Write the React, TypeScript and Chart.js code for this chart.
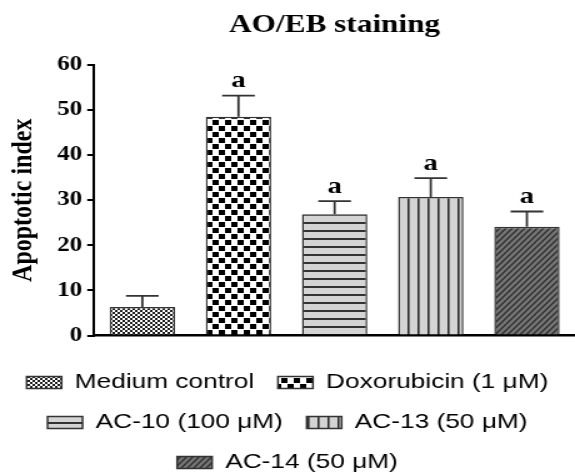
import React, { useEffect, useRef } from 'react';
import { Chart, registerables } from 'chart.js';

Chart.register(...registerables);

// ---- data ----
const categories = ['Medium control', 'Doxorubicin (1 μM)', 'AC-10 (100 μM)', 'AC-13 (50 μM)', 'AC-14 (50 μM)'];
const meanValues = [6.3, 48.5, 26.9, 30.7, 24.1];
const errorValues = [2.5, 4.7, 2.9, 4.2, 3.4];
const significance = ['', 'a', 'a', 'a', 'a'];
const yMin = 0;
const yMax = 60;
const yStep = 10;

const SERIF = '"Liberation Serif", "Times New Roman", Times, serif';
const SANS = '"Liberation Sans", Arial, Helvetica, sans-serif';

function makePattern(w: number, h: number, draw: (c: CanvasRenderingContext2D) => void): CanvasPattern {
  const cv = document.createElement('canvas');
  cv.width = w;
  cv.height = h;
  const c = cv.getContext('2d') as CanvasRenderingContext2D;
  draw(c);
  return c.createPattern(cv, 'repeat') as CanvasPattern;
}

function buildPatterns(): CanvasPattern[] {
  const fine = makePattern(4, 4, (c) => {
    c.fillStyle = '#1e1e1e';
    c.fillRect(0, 0, 4, 4);
    c.fillStyle = '#ffffff';
    c.fillRect(0, 0, 2, 2);
    c.fillRect(2, 2, 2, 2);
  });
  const checker = makePattern(10, 12, (c) => {
    c.fillStyle = '#ffffff';
    c.fillRect(0, 0, 10, 12);
    c.fillStyle = '#000000';
    c.fillRect(0, 0, 5, 5);
    c.fillRect(5, 6, 5, 5);
  });
  const horiz = makePattern(4, 8, (c) => {
    c.fillStyle = '#d4d4d4';
    c.fillRect(0, 0, 4, 8);
    c.fillStyle = '#333333';
    c.fillRect(0, 6, 4, 2);
  });
  const vert = makePattern(8, 4, (c) => {
    c.fillStyle = '#d4d4d4';
    c.fillRect(0, 0, 8, 4);
    c.fillStyle = '#2e2e2e';
    c.fillRect(6, 0, 1.6, 4);
  });
  const diag = makePattern(5, 6, (c) => {
    c.fillStyle = '#757575';
    c.fillRect(0, 0, 5, 6);
    c.strokeStyle = '#2e2e2e';
    c.lineWidth = 1.4;
    c.beginPath();
    c.moveTo(-1, 6 + 1.2);
    c.lineTo(5 + 1, -1.2);
    c.moveTo(-1 - 5, 6 + 1.2);
    c.lineTo(0 + 1, -1.2);
    c.moveTo(-1 + 5, 6 + 1.2);
    c.lineTo(10 + 1, -1.2);
    c.stroke();
  });
  return [fine, checker, horiz, vert, diag];
}

const errorBarPlugin = {
  id: 'errorBars',
  afterDatasetsDraw(chart: any) {
    const meta = chart.getDatasetMeta(0);
    const yScale = chart.scales.y;
    const ctx = chart.ctx as CanvasRenderingContext2D;
    ctx.save();
    ctx.strokeStyle = '#333333';
    ctx.lineWidth = 1.8;
    meta.data.forEach((bar: any, i: number) => {
      const { x, width } = bar.getProps(['x', 'width'], true);
      const top = yScale.getPixelForValue(meanValues[i]);
      const end = yScale.getPixelForValue(meanValues[i] + errorValues[i]);
      const half = width / 4;
      ctx.beginPath();
      ctx.moveTo(x, top);
      ctx.lineTo(x, end);
      ctx.moveTo(x - half, end);
      ctx.lineTo(x + half, end);
      ctx.stroke();
      if (significance[i]) {
        ctx.fillStyle = '#000000';
        ctx.font = `bold 23px ${SERIF}`;
        ctx.textAlign = 'center';
        ctx.textBaseline = 'bottom';
        ctx.fillText(significance[i], x, end - 3);
      }
    });
    ctx.restore();
  },
};

export default function App() {
  const canvasRef = useRef<HTMLCanvasElement | null>(null);

  useEffect(() => {
    if (!canvasRef.current) return;
    const patterns = buildPatterns();
    const chart = new Chart(canvasRef.current, {
      type: 'bar',
      data: {
        labels: categories,
        datasets: [
          {
            data: meanValues,
            backgroundColor: patterns,
            borderColor: '#333333',
            borderWidth: 1.5,
            barPercentage: 0.68,
            categoryPercentage: 1,
          },
        ],
      },
      options: {
        animation: false,
        responsive: true,
        maintainAspectRatio: false,
        layout: { padding: 0 },
        plugins: {
          title: { display: false },
          tooltip: { enabled: false },
          legend: {
            display: true,
            position: 'bottom',
            align: 'center',
            onClick: () => {},
            labels: {
              boxWidth: 28,
              boxHeight: 12,
              padding: 19,
              color: '#111111',
              font: { family: SANS, size: 21 },
              generateLabels: () =>
                categories.map((c, i) => ({
                  text: c,
                  fillStyle: patterns[i],
                  strokeStyle: '#333333',
                  lineWidth: 1.5,
                  hidden: false,
                  index: i,
                  datasetIndex: 0,
                })),
            },
          },
        },
        scales: {
          x: {
            type: 'category',
            position: 'bottom',
            grid: { display: false, drawTicks: false },
            ticks: { display: false },
            border: { display: true, color: '#000000', width: 2.5 },
            afterFit: (scale: any) => {
              scale.height = 17.5;
            },
          },
          x2: {
            type: 'category',
            position: 'top',
            grid: { display: false, drawTicks: false },
            ticks: { display: false },
            border: { display: false },
            title: {
              display: true,
              text: 'AO/EB staining',
              color: '#000000',
              font: { family: SERIF, size: 25, weight: 'bold' },
              padding: { top: 11, bottom: 24 },
            },
          },
          y: {
            min: yMin,
            max: yMax,
            ticks: {
              stepSize: yStep,
              color: '#000000',
              padding: 4,
              font: { family: SERIF, size: 20, weight: 'bold' },
            },
            grid: {
              display: true,
              drawOnChartArea: false,
              drawTicks: true,
              tickLength: 5.6,
              color: '#000000',
              lineWidth: 2,
            },
            border: { display: true, color: '#000000', width: 2 },
            title: {
              display: true,
              text: 'Apoptotic index',
              color: '#000000',
              font: { family: SERIF, size: 24, weight: 'bold' },
              padding: { top: 4, bottom: 9 },
            },
          },
        },
      } as any,
      plugins: [errorBarPlugin],
    });
    return () => chart.destroy();
  }, []);

  return (
    <div
      style={{
        position: 'fixed',
        left: 0,
        top: 0,
        width: 575,
        height: 473,
        overflow: 'hidden',
        background: '#ffffff',
      }}
    >
      <div
        style={{
          position: 'absolute',
          left: 0,
          top: 0,
          width: 460,
          height: 483,
          transform: 'scaleX(1.25)',
          transformOrigin: '0 0',
        }}
      >
        <canvas ref={canvasRef} />
      </div>
    </div>
  );
}
